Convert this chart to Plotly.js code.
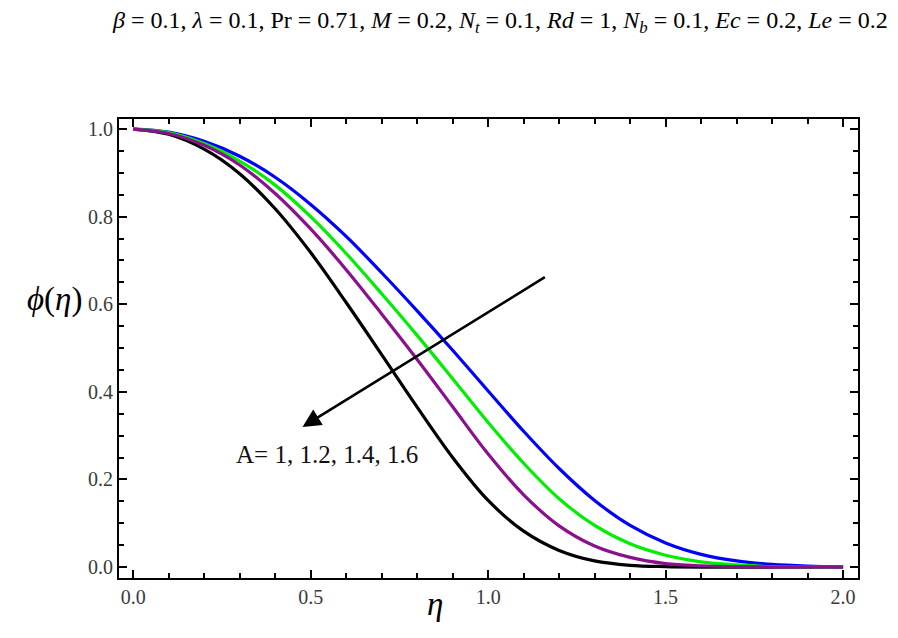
<!DOCTYPE html>
<html>
<head>
<meta charset="utf-8">
<script src="https://cdn.plot.ly/plotly-3.0.1.min.js"></script>
<style>
  html, body { margin: 0; padding: 0; background: #fff; }
  #chart { width: 898px; height: 638px; }
</style>
</head>
<body>
<div id="chart"></div>
<script>
// concentration profile phi(eta) for several A values

const eta = [0, 0.1, 0.2, 0.3, 0.4, 0.5, 0.6, 0.7, 0.8, 0.9, 1.0,
             1.1, 1.2, 1.3, 1.4, 1.5, 1.6, 1.7, 1.8, 1.9, 2.0];

// A = 1
const phiA10 = [1.000, 0.993, 0.972, 0.938, 0.890, 0.828, 0.755, 0.672, 0.585, 0.495, 0.402,
                0.310, 0.225, 0.152, 0.095, 0.055, 0.029, 0.014, 0.006, 0.002, 0.000];
// A = 1.2
const phiA12 = [1.000, 0.992, 0.967, 0.927, 0.872, 0.800, 0.716, 0.624, 0.529, 0.430, 0.330,
                0.237, 0.156, 0.095, 0.053, 0.027, 0.012, 0.005, 0.001, 0.000, 0.000];
// A = 1.4
const phiA14 = [1.000, 0.990, 0.963, 0.918, 0.853, 0.772, 0.679, 0.578, 0.474, 0.366, 0.258,
                0.165, 0.094, 0.048, 0.022, 0.008, 0.003, 0.001, 0.000, 0.000, 0.000];
// A = 1.6
const phiA16 = [1.000, 0.988, 0.954, 0.898, 0.818, 0.718, 0.604, 0.485, 0.365, 0.250, 0.152,
                0.082, 0.038, 0.014, 0.004, 0.001, 0.000, 0.000, 0.000, 0.000, 0.000];

const seriesNames  = ['A = 1.6', 'A = 1', 'A = 1.2', 'A = 1.4'];
const seriesValues = [phiA16, phiA10, phiA12, phiA14];
const seriesColors = ['#000000', '#0000ff', '#00ee00', '#8b108b'];

const paramText = '<i>β</i> = 0.1, <i>λ</i> = 0.1, Pr = 0.71, <i>M</i> = 0.2, <i>N</i><sub><i>t</i></sub> = 0.1, ' +
                  '<i>Rd</i> = 1, <i>N</i><sub><i>b</i></sub> = 0.1, <i>Ec</i> = 0.2, <i>Le</i> = 0.2';
const curveLabel = 'A= 1, 1.2, 1.4, 1.6';

const serif = 'Liberation Serif, Times New Roman, serif';

const traces = seriesValues.map((ys, i) => ({
  x: eta,
  y: ys,
  type: 'scatter',
  mode: 'lines',
  name: seriesNames[i],
  line: {color: seriesColors[i], width: 3.2, shape: 'spline', smoothing: 1}
}));

const axisBase = {
  showline: true,
  linecolor: '#000',
  linewidth: 2,
  mirror: 'allticks',
  ticks: 'inside',
  ticklen: 8,
  tickwidth: 2,
  tickcolor: '#000',
  showgrid: false,
  zeroline: false,
  tickfont: {family: serif, size: 20, color: '#3a3a3a'}
};

const layout = {
  width: 898,
  height: 638,
  paper_bgcolor: '#fff',
  plot_bgcolor: '#fff',
  margin: {l: 119, r: 40, t: 119, b: 60},
  showlegend: false,
  xaxis: Object.assign({}, axisBase, {
    range: [-0.04, 2.042],
    tickvals: [0, 0.5, 1.0, 1.5, 2.0],
    ticktext: ['0.0', '0.5', '1.0', '1.5', '2.0'],
    minor: {dtick: 0.1, tick0: 0, ticks: 'inside', ticklen: 5, tickwidth: 2, tickcolor: '#000'}
  }),
  yaxis: Object.assign({}, axisBase, {
    range: [-0.025, 1.023],
    tickvals: [0, 0.2, 0.4, 0.6, 0.8, 1.0],
    ticktext: ['0.0', '0.2', '0.4', '0.6', '0.8', '1.0'],
    minor: {dtick: 0.05, tick0: 0, ticks: 'inside', ticklen: 5, tickwidth: 2, tickcolor: '#000'}
  }),
  annotations: [
    {
      xref: 'paper', yref: 'paper', x: 1.0, y: 1, xanchor: 'right', yanchor: 'middle',
      xshift: 32, yshift: 97,
      text: paramText, showarrow: false,
      font: {family: serif, size: 24, color: '#000'}
    },
    {
      xref: 'x', yref: 'y', x: 0.477, y: 0.32, ax: 1.164, ay: 0.664,
      axref: 'x', ayref: 'y', text: '', showarrow: true,
      arrowhead: 2, arrowsize: 1.4, arrowwidth: 2.6, arrowcolor: '#000'
    },
    {
      xref: 'x', yref: 'y', x: 0.545, y: 0.256, xanchor: 'center', yanchor: 'middle',
      text: curveLabel, showarrow: false,
      font: {family: serif, size: 25, color: '#111'}
    },
    {
      xref: 'paper', yref: 'y', x: 0, y: 0.61, xanchor: 'right', yanchor: 'middle',
      xshift: -35, text: '<i>ϕ</i>(<i>η</i>)', showarrow: false,
      font: {family: serif, size: 33, color: '#000'}
    },
    {
      xref: 'x', yref: 'paper', x: 0.85, y: 0, xanchor: 'center', yanchor: 'top',
      yshift: -6, text: '<i>η</i>', showarrow: false,
      font: {family: serif, size: 33, color: '#000'}
    }
  ]
};

Plotly.newPlot('chart', traces, layout, {staticPlot: true});
</script>
</body>
</html>
